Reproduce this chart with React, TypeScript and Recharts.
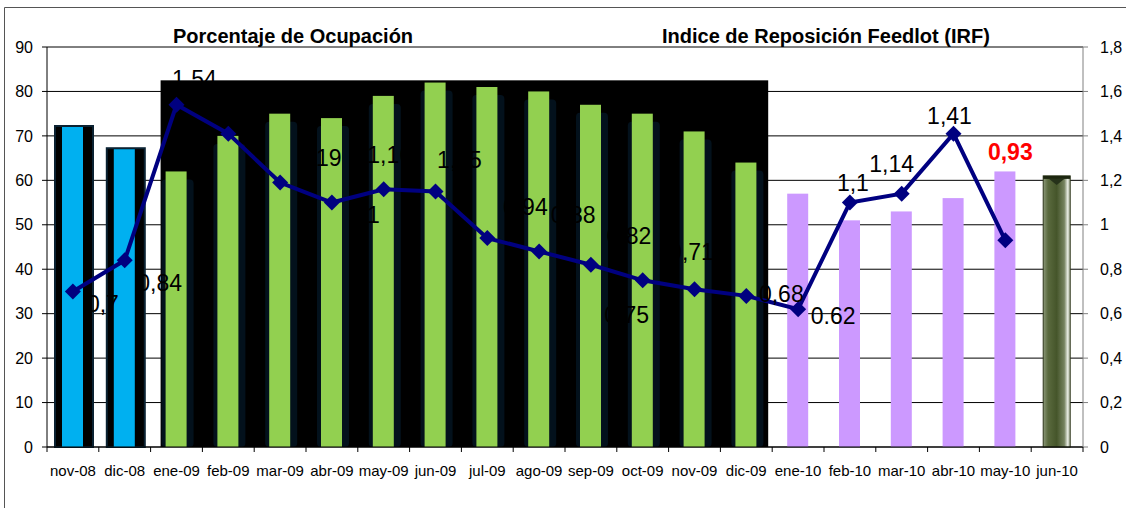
import React from 'react';
import {
  Bar,
  CartesianGrid,
  ComposedChart,
  LabelList,
  Line,
  ReferenceArea,
  ReferenceLine,
  XAxis,
  YAxis,
} from 'recharts';

const periods = [
  'nov-08', 'dic-08', 'ene-09', 'feb-09', 'mar-09', 'abr-09', 'may-09', 'jun-09', 'jul-09', 'ago-09',
  'sep-09', 'oct-09', 'nov-09', 'dic-09', 'ene-10', 'feb-10', 'mar-10', 'abr-10', 'may-10', 'jun-10',
];
// Porcentaje de Ocupación (left axis)
const occupancy = [72, 67, 62, 70, 75, 74, 79, 82, 81, 80, 77, 75, 71, 64, 57, 51, 53, 56, 62, 61];
// Indice de Reposición Feedlot (right axis)
const irf = [0.7, 0.84, 1.54, 1.41, 1.19, 1.1, 1.16, 1.15, 0.94, 0.88, 0.82, 0.75, 0.71, 0.68, 0.62, 1.1, 1.14, 1.41, 0.93, null];
const irfLabels = ['0,7', '0,84', '1,54', '1,41', '1,19', '1,1', '1,16', '1,15', '0,94', '0,88', '0,82', '0,75', '0,71', '0,68', '0.62', '1,1', '1,14', '1,41', '0,93', ''];
const leftTicks = [0, 10, 20, 30, 40, 50, 60, 70, 80, 90];
const rightTicks = [0, 0.2, 0.4, 0.6, 0.8, 1, 1.2, 1.4, 1.6, 1.8];

// where each data label sits relative to its point (dx, dy)
const labelOffsets: [number, number][] = [
  [30, 13], [35, 23], [18, -26], [10, -25], [39, -25], [32, 12], [6, -34], [24, -31], [38, -31], [34, -36],
  [38, -29], [-16, 35], [-3, -37], [35, -2], [35, 7], [3, -20], [-10, -30], [-4, -18], [5, -88], [0, 0],
];

const rows = periods.map((period, i) => ({ period, occupancy: occupancy[i], irf: irf[i] }));
const lastIrf = irf.reduce((acc: number, v, i) => (v == null ? acc : i), 0);

const FONT = '"Liberation Sans", Arial, sans-serif';

const barColor = (period: string) => {
  if (period.endsWith('-08')) return '#00B0F0';
  if (period.endsWith('-09')) return '#92D050';
  return '#CC99FF';
};

const BarShape = (props: any) => {
  const { x, y, width, height, index } = props;
  if (!height || height <= 0) return null;
  const period = periods[index];
  if (index === periods.length - 1) {
    const ox = x - 3;
    const ow = width + 6;
    return (
      <g>
        <defs>
          <linearGradient id="oliveBar" x1="0" y1="0" x2="1" y2="0">
            <stop offset="0%" stopColor="#8c987a" />
            <stop offset="18%" stopColor="#5a6a3e" />
            <stop offset="50%" stopColor="#45552a" />
            <stop offset="78%" stopColor="#75825f" />
            <stop offset="90%" stopColor="#e2e6dc" />
            <stop offset="100%" stopColor="#aab19c" />
          </linearGradient>
        </defs>
        <rect x={ox} y={y} width={ow} height={height} fill="url(#oliveBar)" stroke="#2b3419" strokeWidth={1} />
        <rect x={ox} y={y} width={ow} height={3} fill="#1c260f" />
        <path d={`M${ox + 6},${y + 3} L${ox + ow - 6},${y + 3} L${ox + ow / 2},${y + 9} Z`} fill="#26321a" />
      </g>
    );
  }
  const dark = !period.endsWith('-10');
  const onWhite = period.endsWith('-08');
  return (
    <g>
      {dark && onWhite && (
        <rect x={x - 7} y={y - 1} width={width + 17} height={height + 1} fill="#000" stroke="#0b2232" strokeWidth={2} />
      )}
      {dark && !onWhite && (
        <rect x={x - 4} y={y + 8} width={width + 11} height={height - 8} rx={4} fill="#03111c" />
      )}
      <rect x={x} y={y} width={width} height={height} fill={barColor(period)} />
    </g>
  );
};

const Diamond = (props: any) => {
  const { cx, cy, value } = props;
  if (value == null || cx == null || cy == null) return <g />;
  const r = 8;
  return <path d={`M${cx},${cy - r} L${cx + r},${cy} L${cx},${cy + r} L${cx - r},${cy} Z`} fill="#000080" />;
};

const PointLabel = (props: any) => {
  const { x, y, index } = props;
  const text = irfLabels[index];
  if (!text || x == null || y == null) return null;
  const [dx, dy] = labelOffsets[index];
  const hot = index === lastIrf;
  return (
    <text
      x={x + dx}
      y={y + dy}
      textAnchor="middle"
      dominantBaseline="central"
      fontFamily={FONT}
      fontSize={23}
      fontWeight={hot ? 'bold' : 'normal'}
      fill={hot ? '#FF0000' : '#000'}
    >
      {text}
    </text>
  );
};

const XTick = (props: any) => {
  const { x, y, payload, index } = props;
  const half = payload?.offset || 25.9;
  return (
    <g>
      <line x1={x - half} x2={x - half} y1={y - 5} y2={y} stroke="#000" />
      {index === periods.length - 1 && <line x1={x + half} x2={x + half} y1={y - 5} y2={y} stroke="#000" />}
      <text x={x} y={y + 24} textAnchor="middle" fontFamily={FONT} fontSize={15} fill="#000">
        {payload.value}
      </text>
    </g>
  );
};

const BlackPanel = (props: any) => {
  const { x, y, width, height } = props;
  return <rect x={x + 10} y={y} width={width - 14} height={height} fill="#000" />;
};

export default function App() {
  return (
    <div style={{ position: 'absolute', left: 0, top: 0, width: 1126, height: 508, background: '#fff' }}>
      <ComposedChart width={1126} height={508} data={rows} margin={{ top: 47, right: 0, bottom: 0, left: 0 }}>
        <CartesianGrid vertical={false} stroke="#000" yAxisId="left" />
        <ReferenceArea
          yAxisId="left"
          x1="ene-09"
          x2="dic-09"
          y1={0}
          y2={82.5}
          shape={BlackPanel}
          ifOverflow="visible"
        />
        <XAxis
          dataKey="period"
          interval={0}
          height={61}
          tickSize={5}
          tickMargin={0}
          tickLine={false}
          axisLine={{ stroke: '#000' }}
          tick={XTick}
        />
        <YAxis
          yAxisId="left"
          width={47}
          domain={[0, 90]}
          ticks={leftTicks}
          tickSize={5}
          tickMargin={9}
          axisLine={{ stroke: '#000' }}
          tickLine={{ stroke: '#000' }}
          tick={{ fill: '#000', fontSize: 16, fontFamily: FONT }}
        />
        <YAxis
          yAxisId="right"
          orientation="right"
          width={43}
          domain={[0, 1.8]}
          ticks={rightTicks}
          tickSize={5}
          tickMargin={12}
          axisLine={{ stroke: '#808080' }}
          tickLine={{ stroke: '#808080' }}
          tick={{ fill: '#000', fontSize: 16, fontFamily: FONT, textAnchor: 'start' }}
          tickFormatter={(v: number) => String(v).replace('.', ',')}
        />
        <ReferenceLine yAxisId="left" y={90} stroke="#808080" />
        <Bar yAxisId="left" dataKey="occupancy" barSize={21} shape={BarShape} isAnimationActive={false} />
        <Line
          yAxisId="right"
          dataKey="irf"
          type="linear"
          stroke="#000080"
          strokeWidth={4}
          dot={Diamond}
          activeDot={false}
          isAnimationActive={false}
        >
          <LabelList dataKey="irf" content={PointLabel} />
        </Line>
      </ComposedChart>
      <svg
        width={1126}
        height={508}
        style={{ position: 'absolute', left: 0, top: 0, pointerEvents: 'none' }}
      >
        <line x1={4.5} y1={7.5} x2={1126} y2={7.5} stroke="#555" />
        <line x1={4.5} y1={7.5} x2={4.5} y2={508} stroke="#555" />
        <text x={173} y={43} fontFamily={FONT} fontSize={20} fontWeight="bold" fill="#000">
          Porcentaje de Ocupación
        </text>
        <text x={662} y={43} fontFamily={FONT} fontSize={20} fontWeight="bold" fill="#000">
          Indice de Reposición Feedlot (IRF)
        </text>
      </svg>
    </div>
  );
}
